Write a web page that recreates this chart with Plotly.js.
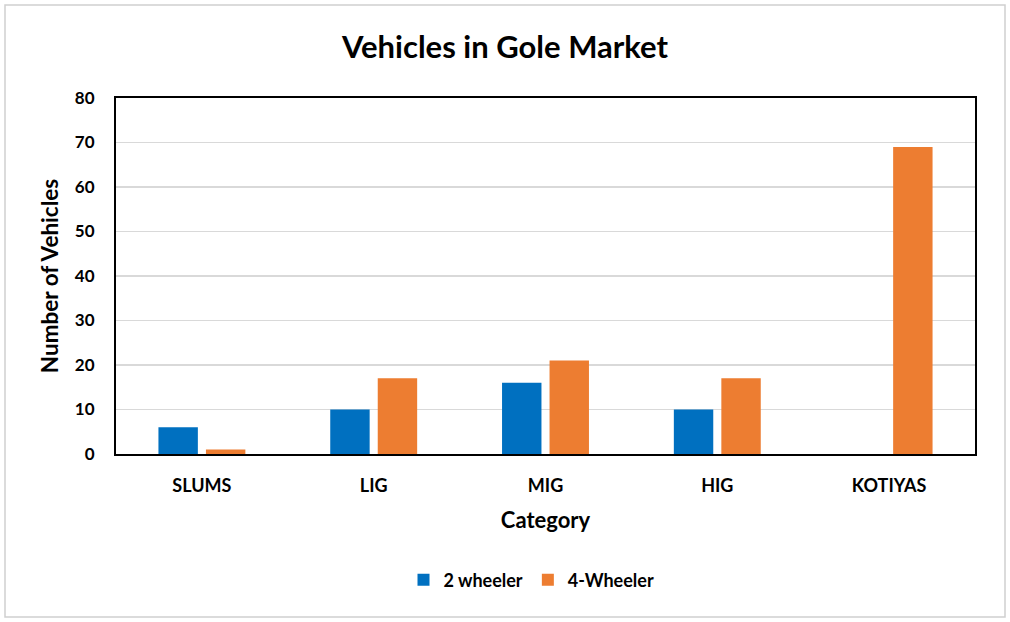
<!DOCTYPE html>
<html><head><meta charset="utf-8">
<script src="https://cdn.plot.ly/plotly-3.0.1.min.js"></script>
<style>html,body{margin:0;padding:0;background:#fff}#chart{width:1010px;height:622px}</style>
</head><body><div id="chart"></div>
<script>
const categories = ["SLUMS", "LIG", "MIG", "HIG", "KOTIYAS"];
const twoWheeler = [6, 10, 16, 10, 0];
const fourWheeler = [1, 17, 21, 17, 69];
const yTicks = [0, 10, 20, 30, 40, 50, 60, 70, 80];

const W = 1010, H = 622, L = 116, R = 35, T = 98, B = 168;
const pw = W - L - R, ph = H - T - B;
const fontFam = "Lato, 'Open Sans', sans-serif";
const bold = s => "<b>" + s + "</b>";

const traces = [
  {type: "bar", name: bold("2 wheeler"), x: categories, y: twoWheeler, marker: {color: "#0070C0"}},
  {type: "bar", name: bold("4-Wheeler"), x: categories, y: fourWheeler, marker: {color: "#ED7D31"}}
];

const layout = {
  width: W, height: H,
  margin: {l: L, r: R, t: T, b: B},
  paper_bgcolor: "#fff", plot_bgcolor: "#fff",
  font: {family: fontFam, color: "#000"},
  title: {text: bold("Vehicles in Gole Market"), x: 0.5, xanchor: "center", y: 1 - 47 / H, yanchor: "middle",
          font: {size: 31, family: fontFam, color: "#000"}},
  barmode: "group", bargap: 0.447, bargroupgap: 0.17,
  xaxis: {
    title: {text: bold("Category"), font: {size: 22, family: fontFam}, standoff: 18},
    tickvals: categories, ticktext: categories.map(bold),
    tickfont: {size: 18, family: fontFam},
    ticklabelstandoff: 14,
    showline: true, linecolor: "#000", linewidth: 2, mirror: true,
    ticks: "", showgrid: false
  },
  yaxis: {
    title: {text: bold("Number of Vehicles"), font: {size: 22.5, family: fontFam}, standoff: 10},
    range: [0, 80], tickvals: yTicks, ticktext: yTicks.map(bold),
    tickfont: {size: 17, family: fontFam},
    showline: true, linecolor: "#000", linewidth: 2, mirror: true,
    gridcolor: "#d9d9d9", gridwidth: 1.5, zeroline: false, ticks: "", ticklabelstandoff: 16
  },
  legend: {orientation: "h", x: 0.5 - 14 / pw, xanchor: "center", y: -(580 - 454) / ph, yanchor: "middle",
           font: {size: 18, family: fontFam}, itemwidth: 30, traceorder: "normal"},
  shapes: [{
    type: "rect", xref: "paper", yref: "paper",
    x0: (5 - L) / pw, x1: (1005 - L) / pw,
    y0: (T + ph - 617) / ph, y1: (T + ph - 5) / ph,
    line: {color: "#d0d0d0", width: 1.5}, fillcolor: "rgba(0,0,0,0)", layer: "below"
  }]
};

Plotly.newPlot("chart", traces, layout, {displayModeBar: false, staticPlot: true});
</script></body></html>
